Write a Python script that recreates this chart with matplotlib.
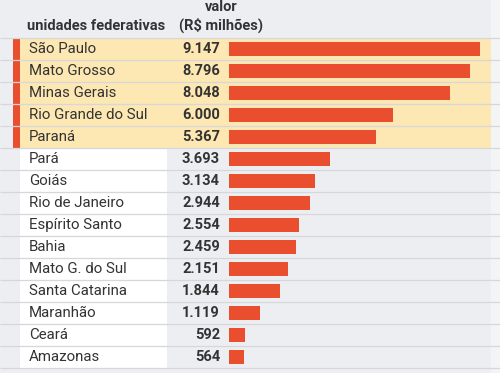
import matplotlib
matplotlib.use("Agg")
import matplotlib.pyplot as plt
import numpy as np

states = ["São Paulo", "Mato Grosso", "Minas Gerais", "Rio Grande do Sul", "Paraná",
          "Pará", "Goiás", "Rio de Janeiro", "Espírito Santo", "Bahia",
          "Mato G. do Sul", "Santa Catarina", "Maranhão", "Ceará", "Amazonas"]
values = [9147, 8796, 8048, 6000, 5367, 3693, 3134, 2944, 2554, 2459, 2151, 1844, 1119, 592, 564]
n_highlight = 5

header_name = "unidades federativas"
header_value = ["valor", "(R$ milhões)"]

plt.rcParams["font.family"] = ["Roboto", "DejaVu Sans"]
TXT = "#333333"
BAR = "#e94f2e"
YEL = "#fde8b3"
GRAY = "#eceef1"


def fmt(v):
    return f"{v:,}".replace(",", ".")


def py(p):
    # pixel row (from top) -> row units
    return (p - 38) / 22 - 0.5


fig = plt.figure(figsize=(5, 3.73), dpi=100)
bg = fig.add_axes([0, 0, 1, 1])
bg.set_xlim(0, 500)
bg.set_ylim(py(373), py(0))
bg.axis("off")
bg.add_patch(plt.Rectangle((0, py(373)), 500, py(0) - py(373), color=GRAY, zorder=0))
bg.axvspan(491, 500, color="#f3f4f6", zorder=0.5)

n = len(states)
rows = np.arange(n)
for i in rows:
    if i < n_highlight:
        bg.barh(i, 471, left=20, height=1, color=YEL, zorder=1)
        bg.barh(i, 7, left=13, height=1, color=BAR, zorder=1)
    else:
        bg.barh(i, 147, left=20, height=1, color="white", zorder=1)
bg.hlines(np.arange(-0.5, n + 1), 0, 500, color="#d5d7da", lw=0.9, zorder=2)

for i, (s, v) in enumerate(zip(states, values)):
    bg.text(29, i, s, va="center", ha="left", fontsize=10.8, color=TXT, zorder=3)
    bg.text(220, i, fmt(v), va="center", ha="right", fontsize=10.5,
            fontweight="bold", color=TXT, zorder=3)

bg.text(27, py(30), header_name, va="baseline", ha="left", fontsize=10.5,
        fontweight="bold", color=TXT)
bg.text(221, py(11), header_value[0], va="baseline", ha="center", fontsize=10.5,
        fontweight="bold", color=TXT)
bg.text(221, py(30), header_value[1], va="baseline", ha="center", fontsize=10.5,
        fontweight="bold", color=TXT)

ax = fig.add_axes([229 / 500, 0, 262 / 500, 1])
ax.set_xlim(0, 9560)
ax.set_ylim(py(373), py(0))
ax.axis("off")
ax.barh(rows, values, height=0.68, color=BAR, zorder=3)

fig.savefig("out.png", dpi=100)
